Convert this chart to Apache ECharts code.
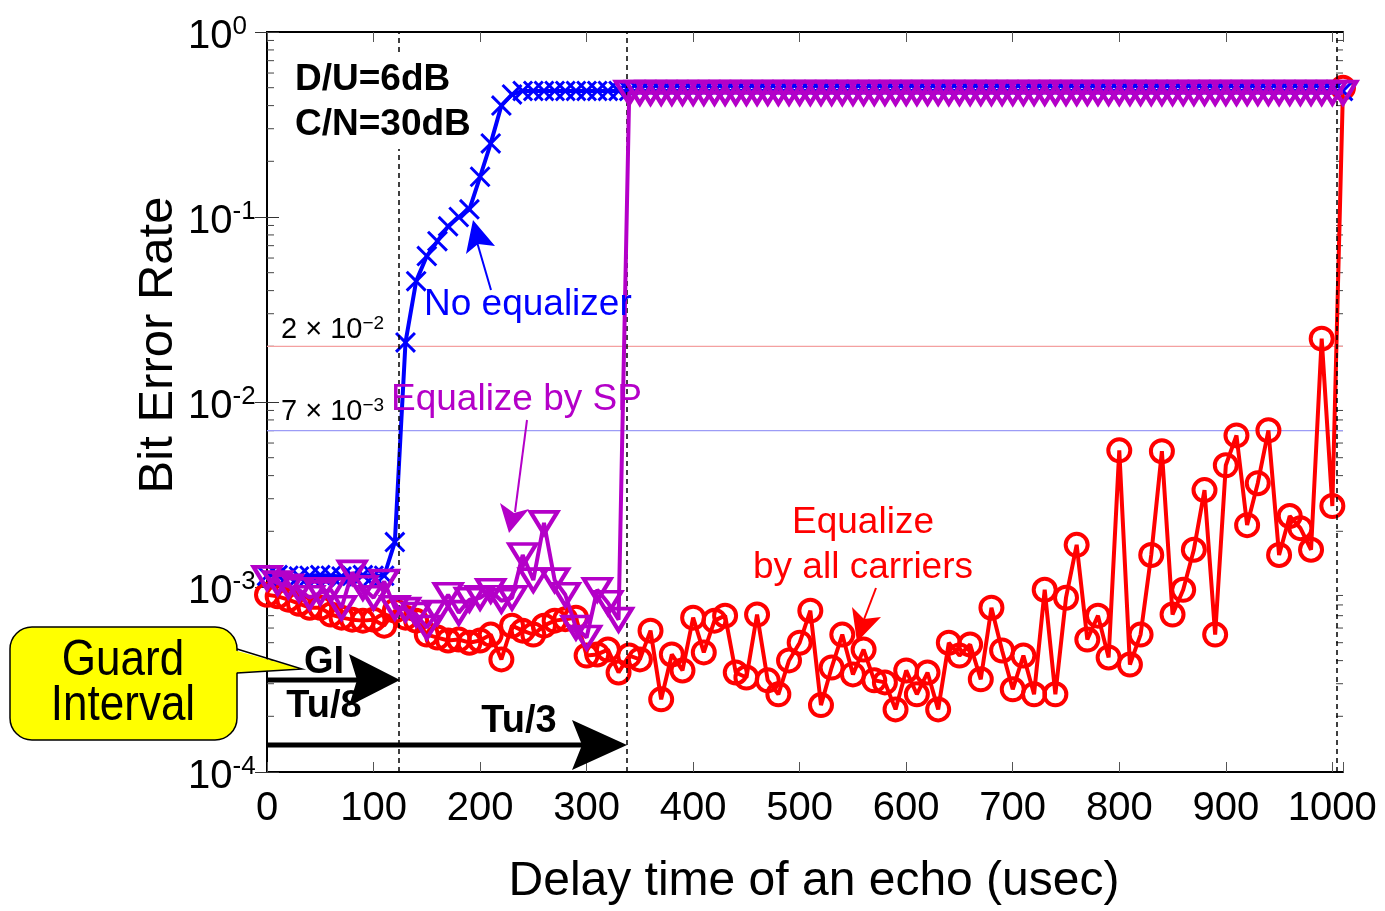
<!DOCTYPE html>
<html>
<head>
<meta charset="utf-8">
<script src="https://cdn.jsdelivr.net/npm/echarts@6/dist/echarts.min.js"></script>
<style>
html, body { margin: 0; padding: 0; background: #fff; }
#chart { width: 1385px; height: 911px; }
</style>
</head>
<body>
<div id="chart"></div>
<script>
// delay of the echo (usec), one sample every 10 usec
const delayUs = [
  0, 10, 20, 30, 40, 50, 60, 70, 80, 90,
  100, 110, 120, 130, 140, 150, 160, 170, 180, 190,
  200, 210, 220, 230, 240, 250, 260, 270, 280, 290,
  300, 310, 320, 330, 340, 350, 360, 370, 380, 390,
  400, 410, 420, 430, 440, 450, 460, 470, 480, 490,
  500, 510, 520, 530, 540, 550, 560, 570, 580, 590,
  600, 610, 620, 630, 640, 650, 660, 670, 680, 690,
  700, 710, 720, 730, 740, 750, 760, 770, 780, 790,
  800, 810, 820, 830, 840, 850, 860, 870, 880, 890,
  900, 910, 920, 930, 940, 950, 960, 970, 980, 990,
  1000, 1010
];

// No equalizer
const berNoEq = [
  1.15e-3, 1.16e-3, 1.15e-3, 1.14e-3, 1.15e-3, 1.16e-3, 1.15e-3, 1.14e-3, 1.15e-3, 1.16e-3,
  1.15e-3, 1.15e-3, 1.75e-3, 0.021, 0.045, 0.0615, 0.074, 0.089, 0.10, 0.11,
  0.165, 0.25, 0.40, 0.46, 0.48, 0.48, 0.48, 0.48, 0.48, 0.48,
  0.48, 0.48, 0.48, 0.48, 0.48, 0.48, 0.48, 0.48, 0.48, 0.48,
  0.48, 0.48, 0.48, 0.48, 0.48, 0.48, 0.48, 0.48, 0.48, 0.48,
  0.48, 0.48, 0.48, 0.48, 0.48, 0.48, 0.48, 0.48, 0.48, 0.48,
  0.48, 0.48, 0.48, 0.48, 0.48, 0.48, 0.48, 0.48, 0.48, 0.48,
  0.48, 0.48, 0.48, 0.48, 0.48, 0.48, 0.48, 0.48, 0.48, 0.48,
  0.48, 0.48, 0.48, 0.48, 0.48, 0.48, 0.48, 0.48, 0.48, 0.48,
  0.48, 0.48, 0.48, 0.48, 0.48, 0.48, 0.48, 0.48, 0.48, 0.48,
  0.48, 0.48
];

// Equalize by SP
const berSP = [
  1.12e-3, 1.05e-3, 1.01e-3, 9.66e-4, 8.75e-4, 9.3e-4, 9.66e-4, 7.73e-4, 1.2e-3, 9.9e-4,
  8.75e-4, 1.07e-3, 7.73e-4, 7.55e-4, 7.1e-4, 6.04e-4, 7.27e-4, 9.08e-4, 7.27e-4, 8.54e-4,
  8.75e-4, 9.55e-4, 8.43e-4, 8.75e-4, 1.49e-3, 1.09e-3, 2.22e-3, 1.09e-3, 9.08e-4, 6.04e-4,
  5.33e-4, 9.66e-4, 8.22e-4, 6.66e-4, 0.47, 0.47, 0.47, 0.47, 0.47, 0.47,
  0.47, 0.47, 0.47, 0.47, 0.47, 0.47, 0.47, 0.47, 0.47, 0.47,
  0.47, 0.47, 0.47, 0.47, 0.47, 0.47, 0.47, 0.47, 0.47, 0.47,
  0.47, 0.47, 0.47, 0.47, 0.47, 0.47, 0.47, 0.47, 0.47, 0.47,
  0.47, 0.47, 0.47, 0.47, 0.47, 0.47, 0.47, 0.47, 0.47, 0.47,
  0.47, 0.47, 0.47, 0.47, 0.47, 0.47, 0.47, 0.47, 0.47, 0.47,
  0.47, 0.47, 0.47, 0.47, 0.47, 0.47, 0.47, 0.47, 0.47, 0.47,
  0.47, 0.47
];

// Equalize by all carriers
const berAll = [
  9.08e-4, 8.9e-4, 8.54e-4, 8.12e-4, 7.73e-4, 7.73e-4, 7.1e-4, 6.83e-4, 6.66e-4, 6.58e-4,
  6.66e-4, 6.18e-4, 7.45e-4, 6.83e-4, 6.58e-4, 5.53e-4, 5.33e-4, 5.14e-4, 5.2e-4, 5.0e-4,
  5.14e-4, 5.53e-4, 4.06e-4, 6.18e-4, 5.81e-4, 5.53e-4, 6.18e-4, 6.58e-4, 6.7e-4, 6.83e-4,
  4.26e-4, 4.32e-4, 4.59e-4, 3.45e-4, 4.26e-4, 4.06e-4, 5.81e-4, 2.47e-4, 4.32e-4, 3.54e-4,
  6.83e-4, 4.43e-4, 6.58e-4, 7.0e-4, 3.45e-4, 3.24e-4, 7.1e-4, 3.13e-4, 2.63e-4, 4.01e-4,
  5.0e-4, 7.45e-4, 2.30e-4, 3.67e-4, 5.53e-4, 3.37e-4, 4.59e-4, 3.13e-4, 3.05e-4, 2.18e-4,
  3.54e-4, 2.63e-4, 3.45e-4, 2.18e-4, 5.0e-4, 4.26e-4, 4.89e-4, 3.17e-4, 7.73e-4, 4.54e-4,
  2.80e-4, 4.26e-4, 2.63e-4, 9.66e-4, 2.63e-4, 8.75e-4, 1.69e-3, 5.2e-4, 7.0e-4, 4.16e-4,
  5.48e-3, 3.81e-4, 5.53e-4, 1.49e-3, 5.42e-3, 7.1e-4, 9.66e-4, 1.59e-3, 3.34e-3, 5.53e-4,
  4.55e-3, 6.6e-3, 2.16e-3, 3.64e-3, 7.03e-3, 1.49e-3, 2.42e-3, 2.08e-3, 1.59e-3, 0.022,
  2.74e-3, 0.5
];

const xTickLabels = ['0', '100', '200', '300', '400', '500', '600', '700', '800', '900', '1000'];
const yExponents = [0, -1, -2, -3, -4];
const refLevels = [0.02, 0.007];          // 2x10^-2 and 7x10^-3
const guardMarks = [124, 338, 1004];       // Tu/8, Tu/3, Tu

const FONT = "'Liberation Sans', Arial, Helvetica, sans-serif";
const BLUE = '#0000ff';
const MAG = '#b400c8';
const RED = '#ff0000';
const X_MAX = 1010;

function pairs(ys) {
  return delayUs.map((d, i) => [d, ys[i]]);
}

// log minor ticks 2..9 in each decade
const minorTicks = [];
for (let e = -4; e < 0; e++) {
  for (let m = 2; m <= 9; m++) minorTicks.push([0, m * Math.pow(10, e)]);
}

const xPath = 'path://M2,0L10,8L18,0L20,2L12,10L20,18L18,20L10,12L2,20L0,18L8,10L0,2Z';

// thin horizontal reference line across the whole plot
function refSeries(level, color) {
  return {
    type: 'line', silent: true, z: 2, symbol: 'none',
    data: [[0, level], [X_MAX, level]],
    lineStyle: { color: color, width: 1.2 }
  };
}

let chart = echarts.init(document.getElementById('chart'), null, { renderer: 'canvas' });

let option = {
  animation: false,
  backgroundColor: '#fff',
  grid: { left: 267, top: 32, width: 1076, height: 743 },
  xAxis: [
    {
      type: 'value', min: 0, max: X_MAX, interval: 100,
      name: 'Delay time of an echo (usec)', nameLocation: 'middle', nameGap: 86,
      nameTextStyle: { fontSize: 48, fontFamily: FONT, color: '#000', padding: [0, 0, 0, 18] },
      axisLine: { lineStyle: { color: '#000', width: 2 } },
      axisTick: { inside: true, length: 10, lineStyle: { color: '#555' } },
      axisLabel: {
        fontSize: 40, fontFamily: FONT, color: '#000', margin: 17,
        formatter: v => xTickLabels.indexOf(String(v)) >= 0 ? String(v) : ''
      },
      splitLine: { show: false }
    },
    {
      type: 'value', min: 0, max: X_MAX, interval: 100, position: 'top',
      axisLine: { lineStyle: { color: '#000', width: 2 } },
      axisTick: { inside: true, length: 10, lineStyle: { color: '#555' } },
      axisLabel: { show: false },
      splitLine: { show: false }
    }
  ],
  yAxis: [
    {
      type: 'log', logBase: 10, min: 1e-4, max: 1,
      axisLine: { lineStyle: { color: '#000', width: 2 } },
      axisTick: { inside: true, length: 12, lineStyle: { color: '#333' } },
      axisLabel: {
        margin: 79, align: 'left', padding: [10, 0, 0, 0],
        formatter: v => {
          const e = Math.round(Math.log10(v));
          return yExponents.indexOf(e) >= 0 ? '{b|10}{s|' + e + '}' : '';
        },
        rich: {
          b: { fontSize: 40, fontFamily: FONT, color: '#000', lineHeight: 46 },
          s: { fontSize: 26, fontFamily: FONT, color: '#000', lineHeight: 26, verticalAlign: 'top' }
        }
      },
      splitLine: { show: false }
    },
    {
      type: 'log', logBase: 10, min: 1e-4, max: 1, position: 'right',
      axisLine: { lineStyle: { color: '#000', width: 2 } },
      axisTick: { inside: true, length: 12, lineStyle: { color: '#333' } },
      axisLabel: { show: false },
      splitLine: { show: false }
    }
  ],
  series: [
    {
      type: 'custom', name: 'minorTicks', silent: true, z: 1,
      data: minorTicks, encode: { x: 0, y: 1 },
      renderItem: function (params, api) {
        const l = api.coord([0, api.value(1)]);
        const r = api.coord([X_MAX, api.value(1)]);
        return {
          type: 'group',
          children: [
            { type: 'line', shape: { x1: l[0], y1: l[1], x2: l[0] + 7, y2: l[1] }, style: { stroke: '#444', lineWidth: 1 } },
            { type: 'line', shape: { x1: r[0], y1: r[1], x2: r[0] - 7, y2: r[1] }, style: { stroke: '#444', lineWidth: 1 } }
          ]
        };
      }
    },
    refSeries(refLevels[0], '#f4a0a0'),
    refSeries(refLevels[1], '#9c9cf6'),
    {
      type: 'line', name: 'Equalize by all carriers', data: pairs(berAll), z: 3,
      symbol: 'circle', symbolSize: 22, showAllSymbol: true,
      lineStyle: { color: RED, width: 4 },
      itemStyle: { color: 'rgba(0,0,0,0)', borderColor: RED, borderWidth: 4 },
      markLine: {
        silent: true, symbol: 'none', label: { show: false },
        lineStyle: { color: '#000', width: 1.5, type: [5, 4] },
        data: [
          { xAxis: guardMarks[0] },
          { xAxis: guardMarks[1] },
          { xAxis: guardMarks[2] }
        ]
      }
    },
    {
      type: 'line', name: 'No equalizer', data: pairs(berNoEq), z: 4,
      symbol: xPath, symbolSize: 21, showAllSymbol: true,
      lineStyle: { color: BLUE, width: 4 },
      itemStyle: { color: BLUE }
    },
    {
      type: 'line', name: 'Equalize by SP', data: pairs(berSP), z: 5,
      symbol: 'triangle', symbolRotate: 180, symbolSize: [27, 22], showAllSymbol: true,
      lineStyle: { color: MAG, width: 4 },
      itemStyle: { color: 'rgba(0,0,0,0)', borderColor: MAG, borderWidth: 4 }
    }
  ],
  graphic: [
    {
      type: 'text', x: 158, y: 345, rotation: Math.PI / 2, z: 10,
      style: { text: 'Bit Error Rate', fontSize: 49, fontFamily: FONT, fill: '#000', align: 'center', verticalAlign: 'middle' }
    },
    {
      type: 'text', x: 291, y: 102, z: 10,
      style: {
        text: 'D/U=6dB\nC/N=30dB', fontSize: 37, fontWeight: 'bold', fontFamily: FONT, fill: '#000',
        lineHeight: 45, align: 'left', verticalAlign: 'middle', backgroundColor: '#fff', padding: [2, 4]
      }
    },
    { type: 'text', x: 424, y: 305, z: 10, style: { text: 'No equalizer', fontSize: 37, fontFamily: FONT, fill: BLUE, align: 'left', verticalAlign: 'middle' } },
    { type: 'text', x: 391, y: 400, z: 10, style: { text: 'Equalize by SP', fontSize: 37, fontFamily: FONT, fill: MAG, align: 'left', verticalAlign: 'middle' } },
    { type: 'text', x: 863, y: 523, z: 10, style: { text: 'Equalize', fontSize: 37, fontFamily: FONT, fill: RED, align: 'center', verticalAlign: 'middle' } },
    { type: 'text', x: 863, y: 568, z: 10, style: { text: 'by all carriers', fontSize: 37, fontFamily: FONT, fill: RED, align: 'center', verticalAlign: 'middle' } },
    {
      type: 'text', x: 281, y: 330, z: 10,
      style: {
        text: '{b|2 × 10}{s|−2}', align: 'left', verticalAlign: 'middle',
        rich: {
          b: { fontSize: 29, fontFamily: FONT, fill: '#000', lineHeight: 32 },
          s: { fontSize: 19, fontFamily: FONT, fill: '#000', lineHeight: 19, verticalAlign: 'top' }
        }
      }
    },
    {
      type: 'text', x: 281, y: 412, z: 10,
      style: {
        text: '{b|7 × 10}{s|−3}', align: 'left', verticalAlign: 'middle',
        rich: {
          b: { fontSize: 29, fontFamily: FONT, fill: '#000', lineHeight: 32 },
          s: { fontSize: 19, fontFamily: FONT, fill: '#000', lineHeight: 19, verticalAlign: 'top' }
        }
      }
    },
    // annotation arrows
    { type: 'polyline', z: 10, shape: { points: [[491, 290], [477, 242]] }, style: { stroke: BLUE, lineWidth: 2 } },
    { type: 'polygon', z: 10, shape: { points: [[473, 220], [466, 254], [478, 244], [495, 246]] }, style: { fill: BLUE } },
    { type: 'polyline', z: 10, shape: { points: [[527, 420], [515, 512]] }, style: { stroke: MAG, lineWidth: 2 } },
    { type: 'polygon', z: 10, shape: { points: [[509, 533], [500, 503], [514, 513], [529, 509]] }, style: { fill: MAG } },
    { type: 'polyline', z: 10, shape: { points: [[876, 588], [863, 622]] }, style: { stroke: RED, lineWidth: 2 } },
    { type: 'polygon', z: 10, shape: { points: [[857, 642], [852, 607], [864, 619], [881, 617]] }, style: { fill: RED } },
    // GI and Tu/3 arrows
    { type: 'polyline', z: 10, shape: { points: [[268, 680], [362, 680]] }, style: { stroke: '#000', lineWidth: 5 } },
    { type: 'polygon', z: 10, shape: { points: [[400, 680], [349, 654], [357, 680], [349, 706]] }, style: { fill: '#000' } },
    { type: 'polyline', z: 10, shape: { points: [[268, 745], [590, 745]] }, style: { stroke: '#000', lineWidth: 5 } },
    { type: 'polygon', z: 10, shape: { points: [[627, 745], [572, 720], [582, 745], [572, 770]] }, style: { fill: '#000' } },
    { type: 'text', x: 324, y: 663, z: 11, style: { text: 'GI', fontSize: 38, fontWeight: 'bold', fontFamily: FONT, fill: '#000', align: 'center', verticalAlign: 'middle' } },
    { type: 'text', x: 324, y: 707, z: 11, style: { text: 'Tu/8', fontSize: 38, fontWeight: 'bold', fontFamily: FONT, fill: '#000', align: 'center', verticalAlign: 'middle' } },
    { type: 'text', x: 519, y: 722, z: 11, style: { text: 'Tu/3', fontSize: 38, fontWeight: 'bold', fontFamily: FONT, fill: '#000', align: 'center', verticalAlign: 'middle' } },
    // Guard Interval callout
    { type: 'rect', z: 10, shape: { x: 10, y: 627, width: 227, height: 113, r: 22 }, style: { fill: '#ffff00', stroke: '#000', lineWidth: 1.5 } },
    { type: 'polygon', z: 11, shape: { points: [[230, 649], [302, 669], [230, 673]] }, style: { fill: '#ffff00' } },
    { type: 'polyline', z: 11, shape: { points: [[237, 649], [302, 669], [237, 673]] }, style: { stroke: '#000', lineWidth: 1.5, fill: null } },
    { type: 'text', x: 123, y: 661, z: 12, scaleY: 1.12, style: { text: 'Guard', fontSize: 44, fontFamily: FONT, fill: '#000', align: 'center', verticalAlign: 'middle' } },
    { type: 'text', x: 123, y: 706, z: 12, scaleY: 1.12, style: { text: 'Interval', fontSize: 44, fontFamily: FONT, fill: '#000', align: 'center', verticalAlign: 'middle' } }
  ]
};

chart.setOption(option);
window.addEventListener('resize', chart.resize);
</script>
</body>
</html>
